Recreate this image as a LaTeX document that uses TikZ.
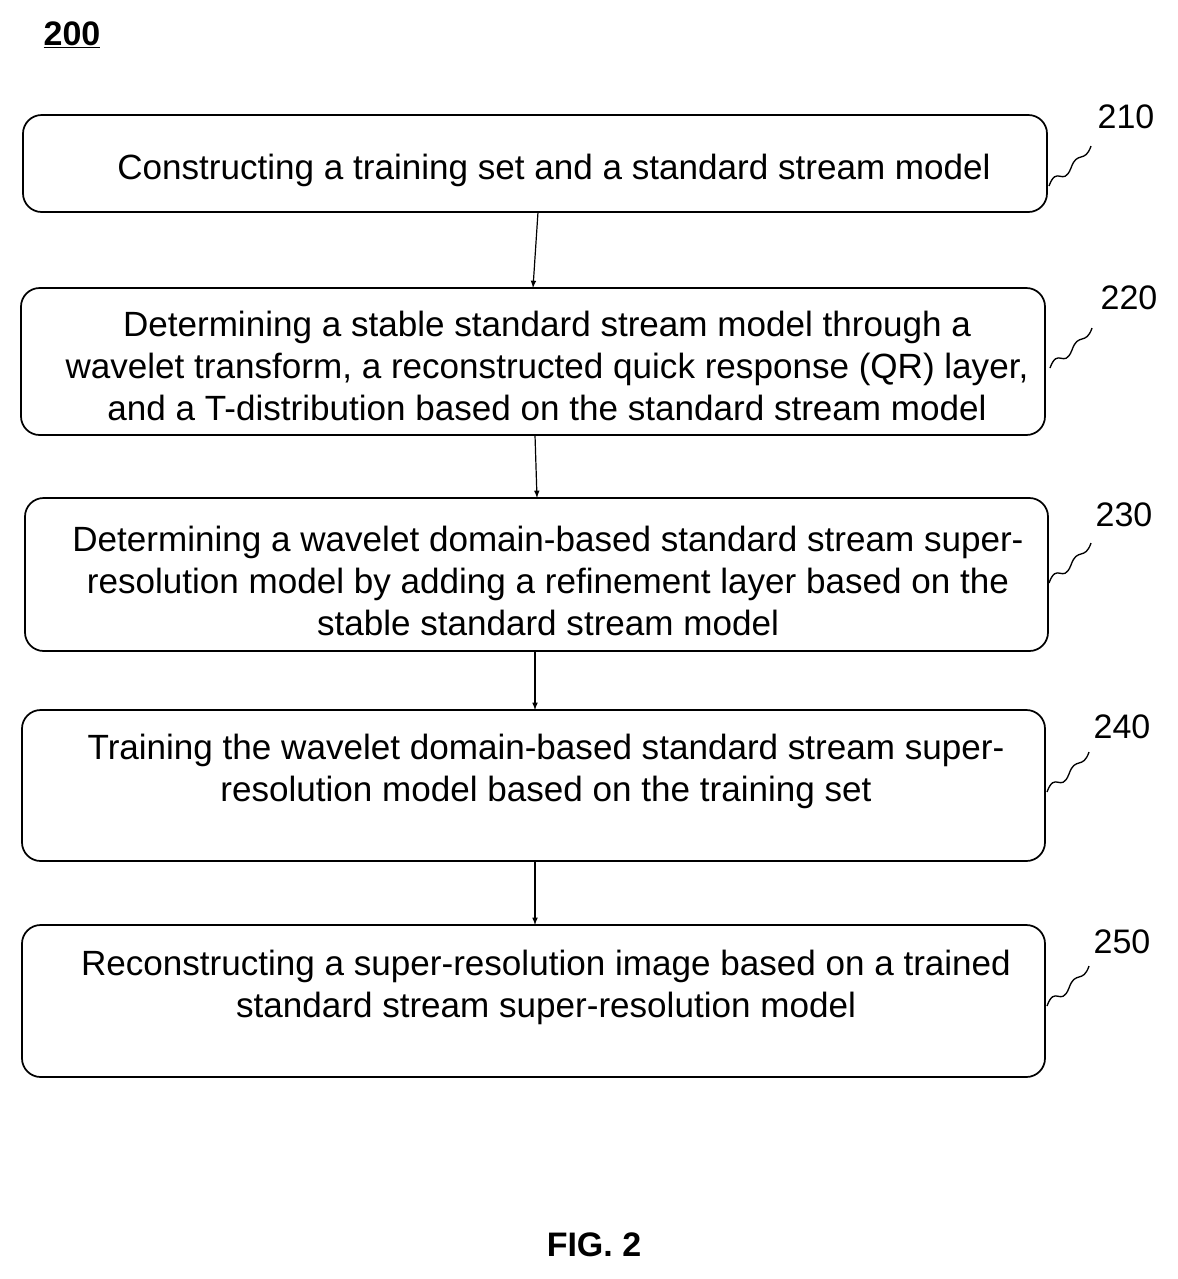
\documentclass[tikz,border=0pt]{standalone}
\usepackage{fontspec}
\setmainfont{Liberation Sans}
\begin{document}
\begin{tikzpicture}[x=0.75pt,y=-0.75pt,
  box/.style={draw,line width=1.3pt,rounded corners=14pt},
  txt/.style={font=\fontsize{26.3}{31.5}\selectfont,align=center},
  lab/.style={font=\fontsize{25.5}{30}\selectfont},
  arr/.style={-latex,line width=0.9pt},
  squig/.pic={\draw[line width=1pt] (0,0) .. controls (8,-22) and (14,2) .. (22,-18) .. controls (28,-36) and (36,-22) .. (42,-40);}]
\useasboundingbox (0,0) rectangle (1178,1279);
\node[font=\fontsize{25.5}{30}\selectfont\bfseries] (t) at (72,35) {\underline{200}};
\node[font=\fontsize{25.5}{30}\selectfont\bfseries] (f) at (594,1245) {FIG. 2};
\draw[box] (23,115) rectangle (1047,212);
\draw[box] (21,288) rectangle (1045,435);
\draw[box] (25,498) rectangle (1048,651);
\draw[box] (22,710) rectangle (1045,861);
\draw[box] (22,925) rectangle (1045,1077);
\node[txt] (b1) at (554,170) {Constructing a training set and a standard stream model};
\node[txt] (b2) at (547,366) {Determining a stable standard stream model through a\\wavelet transform, a reconstructed quick response (QR) layer,\\and a T-distribution based on the standard stream model};
\node[txt] (b3) at (548,581) {Determining a wavelet domain-based standard stream super-\\resolution model by adding a refinement layer based on the\\stable standard stream model};
\node[txt] (b4) at (546,771) {Training the wavelet domain-based standard stream super-\\resolution model based on the training set};
\node[txt] (b5) at (546,987) {Reconstructing a super-resolution image based on a trained\\standard stream super-resolution model};
\coordinate (a1) at (538,212); \coordinate (a2) at (533,288);
\coordinate (c1) at (535,435); \coordinate (c2) at (537,498);
\coordinate (d1) at (535,651); \coordinate (d2) at (535,710);
\coordinate (e1) at (535,861); \coordinate (e2) at (535,925);
\draw[arr] (a1) -- (a2);
\draw[arr] (c1) -- (c2);
\draw[arr] (d1) -- (d2);
\draw[arr] (e1) -- (e2);
\node[lab] (l1) at (1126,117) {210};
\node[lab] (l2) at (1129,298) {220};
\node[lab] (l3) at (1124,515) {230};
\node[lab] (l4) at (1122,727) {240};
\node[lab] (l5) at (1122,942) {250};
\pic at (1049,186) {squig};
\pic at (1050,368) {squig};
\pic at (1049,583) {squig};
\pic at (1047,792) {squig};
\pic at (1047,1006) {squig};
\end{tikzpicture}
\end{document}
